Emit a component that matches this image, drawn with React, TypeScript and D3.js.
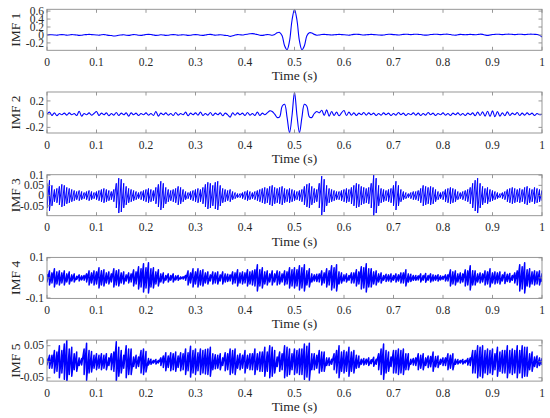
import React from 'react';
import * as d3 from 'd3';

// sample step of every series (s)
const timeStep = 0.005;
const xTicks = [0, 0.1, 0.2, 0.3, 0.4, 0.5, 0.6, 0.7, 0.8, 0.9, 1];
const xTickLabels = ['0', '0.1', '0.2', '0.3', '0.4', '0.5', '0.6', '0.7', '0.8', '0.9', '1'];

// IMF 1: signed values every 5 ms
const imf1 = [
  0.0, 0.01, 0.005, 0.0, -0.005, 0.005, 0.01, 0.005, -0.005, 0.0,
  0.01, 0.005, 0.0, -0.01, -0.005, 0.005, 0.01, 0.015, 0.01, 0.005,
  0.0, -0.005, 0.005, 0.01, 0.0, -0.01, -0.015, -0.025, -0.02, -0.005,
  0.0, 0.005, -0.005, -0.01, 0.0, 0.01, 0.005, -0.005, -0.01, 0.0,
  0.01, 0.015, 0.01, 0.0, -0.01, -0.005, 0.005, 0.0, -0.01, -0.005,
  0.005, 0.01, 0.005, -0.005, 0.0, 0.005, 0.0, -0.01, -0.005, 0.005,
  0.01, 0.005, -0.005, -0.01, 0.0, 0.01, 0.015, 0.005, -0.005, 0.0,
  0.005, 0.0, -0.01, -0.015, -0.035, -0.02, 0.0, 0.01, 0.005, 0.0,
  0.01, 0.02, 0.03, 0.035, 0.025, 0.01, -0.005, -0.01, 0.0, 0.01,
  0.005, -0.005, 0.015, 0.055, 0.065, -0.02, -0.27, -0.37, -0.15, 0.37,
  0.64, 0.37, -0.15, -0.37, -0.27, -0.02, 0.055, 0.05, 0.015, -0.005,
  0.0, 0.01, 0.015, 0.01, 0.005, 0.0, 0.005, 0.01, 0.015, 0.01,
  0.005, 0.0, -0.005, 0.005, 0.015, 0.02, 0.015, 0.005, 0.0, 0.005,
  0.01, 0.015, 0.01, 0.005, 0.0, -0.005, 0.0, 0.01, 0.02, 0.015,
  0.01, 0.005, 0.0, 0.005, 0.015, 0.02, 0.015, 0.01, 0.015, 0.02,
  0.015, 0.01, 0.0, -0.005, 0.0, 0.01, 0.015, 0.02, 0.015, 0.01,
  0.015, 0.02, 0.02, 0.01, 0.0, -0.005, 0.005, 0.015, 0.01, 0.005,
  0.01, 0.015, 0.01, 0.005, 0.01, 0.02, 0.015, 0.0, -0.01, 0.0,
  0.01, 0.015, 0.02, 0.015, 0.01, 0.015, 0.02, 0.02, 0.015, 0.01,
  0.015, 0.02, 0.015, 0.01, 0.015, 0.02, 0.02, 0.015, 0.01, -0.01,
  -0.05,
];

// IMF 2: signed values every 5 ms
const imf2 = [
  0.0, 0.03, -0.02, 0.02, -0.025, 0.01, -0.01, 0.015, -0.015, 0.02,
  -0.01, 0.01, -0.02, 0.045, -0.03, 0.01, -0.01, 0.02, -0.015, 0.01,
  0.04, -0.02, 0.015, -0.01, 0.02, -0.025, 0.01, -0.015, 0.025, -0.02,
  0.015, -0.01, 0.02, -0.03, 0.02, -0.01, 0.015, -0.02, 0.01, -0.01,
  0.02, -0.015, 0.01, -0.02, 0.04, -0.03, 0.015, -0.01, 0.02, -0.015,
  0.01, -0.02, 0.025, -0.015, 0.01, -0.01, 0.03, -0.025, 0.015, -0.01,
  0.02, -0.015, 0.03, -0.02, 0.01, -0.015, 0.025, -0.02, 0.015, -0.01,
  0.02, -0.025, 0.015, -0.01, -0.045, 0.02, -0.015, 0.02, -0.01, 0.015,
  -0.02, 0.025, -0.015, 0.01, -0.02, 0.03, -0.02, 0.015, -0.01, 0.02,
  0.05, 0.04, 0.0, -0.05, -0.04, 0.12, 0.15, -0.05, -0.28, -0.02,
  0.33, -0.02, -0.28, -0.05, 0.15, 0.12, -0.04, -0.05, 0.01, 0.04,
  0.02, 0.06, -0.02, 0.065, -0.03, 0.04, -0.02, 0.03, -0.025, 0.02,
  0.055, -0.02, 0.03, -0.015, 0.02, -0.02, 0.015, -0.01, 0.025, -0.015,
  0.02, -0.01, 0.015, -0.02, 0.01, -0.015, 0.02, -0.01, 0.015, -0.02,
  0.01, -0.015, 0.025, -0.01, 0.015, -0.02, 0.01, -0.01, 0.02, -0.015,
  0.015, -0.02, 0.01, -0.015, 0.025, -0.01, 0.015, -0.02, 0.01, -0.01,
  0.02, -0.015, 0.01, -0.02, 0.015, -0.01, 0.02, -0.015, 0.01, -0.02,
  0.015, -0.01, 0.02, -0.025, 0.03, -0.02, 0.035, -0.03, 0.045, -0.035,
  0.05, -0.04, 0.04, -0.03, 0.02, -0.025, 0.035, -0.02, 0.015, -0.01,
  0.025, -0.02, 0.015, -0.015, 0.02, -0.01, 0.015, -0.02, 0.01, -0.01,
  0.0,
];

// IMF 3-5: oscillation peak amplitude in each 5 ms slot (signal swings between +a and -a)
const imf3Peaks = [
  0.06, 0.075, 0.05, 0.03, 0.035, 0.045, 0.055, 0.05, 0.04, 0.035,
  0.03, 0.025, 0.02, 0.025, 0.02, 0.015, 0.02, 0.025, 0.02, 0.015,
  0.02, 0.025, 0.03, 0.035, 0.03, 0.025, 0.02, 0.03, 0.06, 0.085,
  0.08, 0.06, 0.045, 0.035, 0.03, 0.025, 0.02, 0.015, 0.02, 0.025,
  0.03, 0.035, 0.03, 0.025, 0.04, 0.055, 0.07, 0.06, 0.04, 0.03,
  0.025, 0.03, 0.035, 0.045, 0.04, 0.03, 0.02, 0.015, 0.02, 0.025,
  0.03, 0.035, 0.03, 0.04, 0.055, 0.065, 0.06, 0.05, 0.065, 0.07,
  0.05, 0.035, 0.03, 0.025, 0.03, 0.02, 0.015, 0.01, 0.01, 0.015,
  0.02, 0.025, 0.02, 0.015, 0.02, 0.025, 0.03, 0.035, 0.04, 0.035,
  0.045, 0.05, 0.04, 0.035, 0.04, 0.045, 0.035, 0.03, 0.035, 0.03,
  0.025, 0.02, 0.025, 0.03, 0.045, 0.055, 0.06, 0.045, 0.035, 0.03,
  0.06, 0.095, 0.08, 0.05, 0.035, 0.03, 0.025, 0.02, 0.02, 0.025,
  0.03, 0.035, 0.03, 0.04, 0.05, 0.06, 0.055, 0.045, 0.04, 0.035,
  0.04, 0.06, 0.1, 0.085, 0.05, 0.035, 0.03, 0.025, 0.03, 0.035,
  0.05, 0.07, 0.05, 0.03, 0.02, 0.015, 0.01, 0.015, 0.02, 0.02,
  0.025, 0.035, 0.05, 0.045, 0.04, 0.045, 0.04, 0.03, 0.02, 0.015,
  0.02, 0.03, 0.035, 0.04, 0.035, 0.03, 0.02, 0.015, 0.02, 0.025,
  0.03, 0.04, 0.06, 0.075, 0.085, 0.06, 0.045, 0.035, 0.04, 0.03,
  0.025, 0.02, 0.015, 0.01, 0.015, 0.02, 0.03, 0.035, 0.04, 0.035,
  0.03, 0.035, 0.03, 0.04, 0.045, 0.035, 0.03, 0.04, 0.035, 0.03,
  0.025,
];

const imf4Peaks = [
  0.02, 0.035, 0.025, 0.045, 0.03, 0.035, 0.025, 0.035, 0.02, 0.03,
  0.015, 0.02, 0.008, 0.015, 0.01, 0.012, 0.02, 0.035, 0.025, 0.035,
  0.03, 0.05, 0.035, 0.04, 0.025, 0.03, 0.02, 0.045, 0.035, 0.04,
  0.025, 0.03, 0.015, 0.025, 0.02, 0.04, 0.03, 0.055, 0.045, 0.07,
  0.05, 0.075, 0.045, 0.05, 0.03, 0.04, 0.02, 0.025, 0.012, 0.02,
  0.012, 0.02, 0.01, 0.012, 0.005, 0.006, 0.012, 0.035, 0.025, 0.045,
  0.03, 0.045, 0.035, 0.04, 0.025, 0.03, 0.015, 0.03, 0.025, 0.03,
  0.015, 0.03, 0.02, 0.018, 0.015, 0.03, 0.025, 0.04, 0.025, 0.03,
  0.025, 0.04, 0.03, 0.035, 0.04, 0.065, 0.04, 0.05, 0.03, 0.035,
  0.02, 0.035, 0.02, 0.035, 0.03, 0.02, 0.035, 0.03, 0.05, 0.04,
  0.05, 0.04, 0.06, 0.05, 0.065, 0.035, 0.045, 0.02, 0.015, 0.018,
  0.02, 0.035, 0.025, 0.045, 0.035, 0.06, 0.05, 0.065, 0.03, 0.025,
  0.015, 0.02, 0.012, 0.025, 0.025, 0.04, 0.03, 0.055, 0.05, 0.07,
  0.045, 0.045, 0.03, 0.035, 0.02, 0.025, 0.012, 0.018, 0.015, 0.02,
  0.012, 0.02, 0.015, 0.025, 0.025, 0.04, 0.02, 0.018, 0.012, 0.012,
  0.01, 0.02, 0.012, 0.022, 0.012, 0.02, 0.015, 0.012, 0.016, 0.01,
  0.008, 0.015, 0.015, 0.04, 0.03, 0.035, 0.02, 0.025, 0.02, 0.04,
  0.035, 0.06, 0.035, 0.035, 0.02, 0.025, 0.02, 0.035, 0.03, 0.045,
  0.025, 0.03, 0.025, 0.03, 0.015, 0.028, 0.018, 0.022, 0.012, 0.025,
  0.035, 0.065, 0.055, 0.075, 0.04, 0.045, 0.03, 0.035, 0.03, 0.035,
  0.02,
];

const imf5Peaks = [
  0.01, 0.02, 0.02, 0.035, 0.03, 0.05, 0.035, 0.055, 0.068, 0.04,
  0.045, 0.025, 0.03, 0.012, 0.01, 0.04, 0.058, 0.035, 0.032, 0.02,
  0.025, 0.02, 0.025, 0.02, 0.025, 0.012, 0.025, 0.03, 0.062, 0.045,
  0.035, 0.02, 0.05, 0.04, 0.04, 0.015, 0.02, 0.015, 0.035, 0.04,
  0.032, 0.01, 0.008, 0.004, 0.007, 0.004, 0.012, 0.018, 0.028, 0.018,
  0.028, 0.025, 0.03, 0.018, 0.028, 0.025, 0.04, 0.028, 0.048, 0.035,
  0.04, 0.028, 0.04, 0.035, 0.038, 0.04, 0.045, 0.025, 0.022, 0.02,
  0.025, 0.012, 0.028, 0.025, 0.04, 0.035, 0.04, 0.02, 0.025, 0.02,
  0.035, 0.02, 0.025, 0.025, 0.04, 0.025, 0.03, 0.03, 0.045, 0.03,
  0.05, 0.045, 0.035, 0.015, 0.03, 0.025, 0.05, 0.045, 0.04, 0.025,
  0.04, 0.035, 0.04, 0.04, 0.055, 0.048, 0.058, 0.025, 0.025, 0.02,
  0.035, 0.03, 0.03, 0.012, 0.012, 0.008, 0.025, 0.035, 0.05, 0.03,
  0.035, 0.03, 0.045, 0.03, 0.035, 0.02, 0.018, 0.008, 0.01, 0.008,
  0.012, 0.006, 0.014, 0.008, 0.025, 0.04, 0.055, 0.035, 0.03, 0.015,
  0.035, 0.035, 0.04, 0.035, 0.04, 0.025, 0.025, 0.008, 0.01, 0.012,
  0.025, 0.02, 0.025, 0.012, 0.018, 0.016, 0.03, 0.016, 0.018, 0.008,
  0.012, 0.012, 0.025, 0.02, 0.025, 0.008, 0.007, 0.004, 0.007, 0.004,
  0.01, 0.012, 0.035, 0.035, 0.05, 0.045, 0.05, 0.035, 0.04, 0.035,
  0.04, 0.025, 0.045, 0.03, 0.035, 0.035, 0.05, 0.035, 0.04, 0.035,
  0.05, 0.035, 0.05, 0.045, 0.045, 0.025, 0.03, 0.015, 0.018, 0.012,
  0.01,
];

const imfLabels = ['IMF 1', 'IMF 2', 'IMF 3', 'IMF 4', 'IMF 5'];
const yDomains: [number, number][] = [
  [-0.385, 0.645],
  [-0.285, 0.335],
  [-0.098, 0.102],
  [-0.102, 0.102],
  [-0.0605, 0.0675],
];
const yTicks = [
  [-0.2, 0, 0.2, 0.4, 0.6],
  [-0.2, 0, 0.2],
  [-0.05, 0, 0.05, 0.1],
  [-0.1, 0, 0.1],
  [-0.05, 0, 0.05],
];
const yTickLabels = [
  ['-0.2', '0', '0.2', '0.4', '0.6'],
  ['-0.2', '0', '0.2'],
  ['-0.05', '0', '0.05', '0.1'],
  ['-0.1', '0', '0.1'],
  ['-0.05', '0', '0.05'],
];
const xLabel = 'Time (s)';

const W = 550;
const H = 418;
const LEFT = 47;
const RIGHT = 542;
const TOP0 = 9.3;
const STEP = 82.7;
const PH = 41;
const FONT = '"Liberation Serif", "Times New Roman", Times, serif';
const AXIS = '#8c8c8c';
const TEXT = '#262626';
const BLUE = '#0000ff';

type Panel = {
  values: number[];
  dense: boolean;
  width: number;
};
const panels: Panel[] = [
  { values: imf1, dense: false, width: 1.1 },
  { values: imf2, dense: false, width: 1.1 },
  { values: imf3Peaks, dense: true, width: 1.0 },
  { values: imf4Peaks, dense: true, width: 1.5 },
  { values: imf5Peaks, dense: true, width: 1.5 },
];

export default function App() {
  const x = d3.scaleLinear().domain([0, 1]).range([LEFT, RIGHT]);
  const textStyle = { fontFamily: FONT };
  return (
    <svg
      width={W}
      height={H}
      style={{ position: 'absolute', left: 0, top: 0, background: '#fff', fontFamily: FONT }}
    >
      {panels.map((p, k) => {
        const top = TOP0 + k * STEP;
        const bottom = top + PH;
        const y = d3.scaleLinear().domain(yDomains[k]).range([bottom, top]);
        let d = '';
        if (p.dense) {
          // each 5 ms slot: a swing from +a down to -a, then rising to the next slot's peak
          const path = d3.path();
          p.values.forEach((a, i) => {
            const px = x(i * timeStep);
            if (i === 0) path.moveTo(px, y(a));
            else path.lineTo(px, y(a));
            path.lineTo(px, y(-a));
          });
          d = path.toString();
        } else {
          const line = d3
            .line<number>()
            .x((_, i) => x(i * timeStep))
            .y((v) => y(v))
            .curve(d3.curveCatmullRom.alpha(0.5));
          d = line(p.values) || '';
        }
        const clipId = `clip${k}`;
        return (
          <g key={k}>
            <defs>
              <clipPath id={clipId}>
                <rect x={LEFT} y={top} width={RIGHT - LEFT} height={PH} />
              </clipPath>
            </defs>
            <path
              d={d}
              fill="none"
              stroke={BLUE}
              strokeWidth={p.width}
              strokeLinejoin="round"
              clipPath={`url(#${clipId})`}
            />
            <rect x={LEFT} y={top} width={RIGHT - LEFT} height={PH} fill="none" stroke={AXIS} strokeWidth={0.9} />
            {xTicks.map((t, i) => (
              <g key={'xt' + i}>
                <line x1={x(t)} x2={x(t)} y1={bottom} y2={bottom - 3.5} stroke={AXIS} strokeWidth={0.9} />
                <line x1={x(t)} x2={x(t)} y1={top} y2={top + 3.5} stroke={AXIS} strokeWidth={0.9} />
                <text x={x(t)} y={bottom + 15.5} fontSize={11.5} textAnchor="middle" fill={TEXT} style={textStyle}>
                  {xTickLabels[i]}
                </text>
              </g>
            ))}
            {yTicks[k].map((v, i) => (
              <g key={'yt' + i}>
                <line x1={LEFT} x2={LEFT + 3.5} y1={y(v)} y2={y(v)} stroke={AXIS} strokeWidth={0.9} />
                <line x1={RIGHT} x2={RIGHT - 3.5} y1={y(v)} y2={y(v)} stroke={AXIS} strokeWidth={0.9} />
                <text x={LEFT - 3} y={y(v)} dy="0.32em" fontSize={11.5} textAnchor="end" fill={TEXT} style={textStyle}>
                  {yTickLabels[k][i]}
                </text>
              </g>
            ))}
            <text x={x(0.5)} y={bottom + 30} fontSize={13.5} textAnchor="middle" fill={TEXT} style={textStyle}>
              {xLabel}
            </text>
            <text
              transform={`translate(15,${(top + bottom) / 2}) rotate(-90)`}
              fontSize={13.5}
              textAnchor="middle"
              dy="0.35em"
              fill={TEXT}
              style={textStyle}
            >
              {imfLabels[k]}
            </text>
          </g>
        );
      })}
    </svg>
  );
}
